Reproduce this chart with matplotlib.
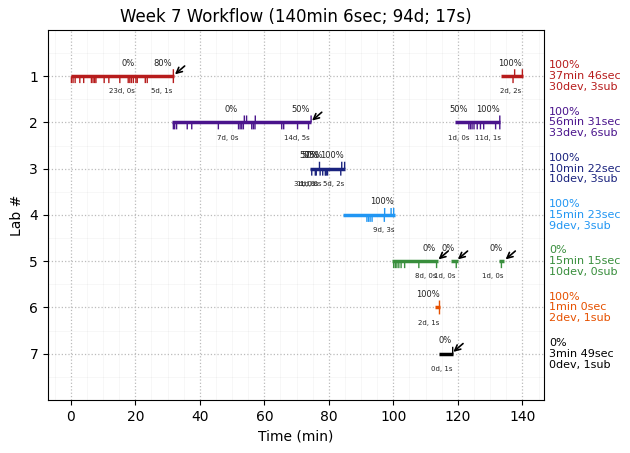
#!/usr/bin/env python3

import matplotlib.pyplot as plt
from matplotlib.ticker import MultipleLocator

labs = [1, 2, 3, 4, 5, 6, 7]
colors = ['#b71c1c', '#4a148c', '#1a237e', '#2196f3', '#388e3c', '#e65100', '#000000']
summaries = [
    '100%\n37min 46sec\n30dev, 3sub',
    '100%\n56min 31sec\n33dev, 6sub',
    '100%\n10min 22sec\n10dev, 3sub',
    '100%\n15min 23sec\n9dev, 3sub',
    '0%\n15min 15sec\n10dev, 0sub',
    '100%\n1min 0sec\n2dev, 1sub',
    '0%\n3min 49sec\n0dev, 1sub',
]

# (start, end) of each working session per lab
sessions = [
    [(0, 32), (133.5, 140.3)],
    [(31.5, 74.5), (119, 133)],
    [(74.2, 85)],
    [(84.5, 100.6)],
    [(99.7, 113.7), (118, 120), (132.6, 134.4)],
    [(113, 114.4)],
    [(114, 118.6)],
]

dev_times = [
    [0.2, 0.7, 1.35, 2.8, 4.0, 6.4, 6.9, 7.4, 7.8, 10.35, 11.8, 15.2, 17.8, 18.3, 18.8, 19.4, 20.2, 20.6, 23.1, 23.7, 31.8, 137.1],
    [31.8, 32.2, 32.8, 36.1, 37.5, 45.75, 52, 52.5, 53, 53.5, 56.1, 56.6, 57.1, 65.4, 66, 70.3, 73.7,
     123.4, 123.9, 124.4, 125, 126, 127, 128, 131.7, 133],
    [74.7, 75.8, 76.1, 77.3, 78.1, 78.9, 79.2, 79.6, 83.7],
    [91.8, 92.3, 92.8, 93.4, 97.2],
    [100.1, 100.6, 101.1, 101.7, 102.4, 103.5, 107.9, 113.4, 119.5, 133.5],
    [114.3],
    [],
]

sub_times = [
    [31.8, 137.6, 140],
    [53.8, 54.5, 57.2, 74.5, 133],
    [77.1, 84, 84.9],
    [97.3, 99.3, 100.1],
    [],
    [114.3],
    [118.4],
]

# (x, percent, x, detail) for the small labels above and below each line
milestones = [
    [(17.7, '0%', 15.8, '23d, 0s'), (28.6, '80%', 28.3, '5d, 1s'), (136.3, '100%', 136.3, '2d, 2s')],
    [(49.7, '0%', 48.8, '7d, 0s'), (71.4, '50%', 70.2, '14d, 5s'), (120.2, '50%', 120.2, '1d, 0s'), (129.2, '100%', 129.2, '11d, 1s')],
    [(73.6, '50%', 72.4, '3d, 0s'), (74.5, '50%', 73.6, '1d, 0s'), (75.4, '75%', 74.5, '1d, 0s'), (81, '100%', 81.5, '5d, 2s')],
    [(96.6, '100%', 96.9, '9d, 3s')],
    [(111.2, '0%', 110, '8d, 0s'), (117, '0%', 115.8, '1d, 0s'), (132, '0%', 130.7, '1d, 0s')],
    [(110.6, '100%', 110.9, '2d, 1s')],
    [(116.1, '0%', 115, '0d, 1s')],
]

# x of the arrow tips, marking incomplete sessions
arrow_tips = [[32.3], [74.8], [], [], [114, 120, 134.8], [], [118.6]]

def draw_lab(lab, color, summary, spans, devs, subs, labels, tips):
    for start, end in spans:
        plt.plot([start, end], [lab, lab], color=color, linewidth=2.5, solid_capstyle='butt', zorder=3)
    plt.vlines(devs, lab, lab + 0.15, color=color, linewidth=1, zorder=3).set_snap(False)
    plt.vlines(subs, lab - 0.15, lab, color=color, linewidth=1, zorder=3).set_snap(False)

    for pct_x, pct, detail_x, detail in labels:
        plt.text(pct_x, lab - 0.28, pct, fontsize=6, ha='center', va='center', color='#222222')
        plt.text(detail_x, lab + 0.33, detail, fontsize=5, ha='center', va='center', color='#222222')

    for tip in tips:
        plt.annotate('', xy=(tip, lab - 0.04), xytext=(tip + 3, lab - 0.22),
                     arrowprops=dict(arrowstyle='->', color='black', linewidth=1.2, shrinkA=0, shrinkB=0))

    plt.text(148.3, lab, summary, fontsize=8, color=color, ha='left', va='center', linespacing=1.1)

def main():
    plt.figure(figsize=(6.3, 4.53), dpi=100)

    for i, lab in enumerate(labs):
        draw_lab(lab, colors[i], summaries[i], sessions[i], dev_times[i], sub_times[i], milestones[i], arrow_tips[i])

    plt.xlim(-7.1, 146.8)
    plt.ylim(8, 0)
    plt.yticks(labs)
    ax = plt.gca()
    ax.xaxis.set_minor_locator(MultipleLocator(5))
    ax.yaxis.set_minor_locator(MultipleLocator(0.5))
    ax.tick_params(which='minor', length=0)
    ax.set_axisbelow(True)
    plt.grid(True, which='major', linestyle=':', color='#bbbbbb', linewidth=0.9)
    plt.grid(True, which='minor', linestyle='-', color='#000000', alpha=0.03, linewidth=0.8)
    plt.xlabel('Time (min)')
    plt.ylabel('Lab #')
    plt.title('Week 7 Workflow (140min 6sec; 94d; 17s)')
    plt.subplots_adjust(left=0.076, right=0.864, top=0.934, bottom=0.117)

    plt.savefig('out.png', dpi=100)

if __name__ == "__main__":
    main()
